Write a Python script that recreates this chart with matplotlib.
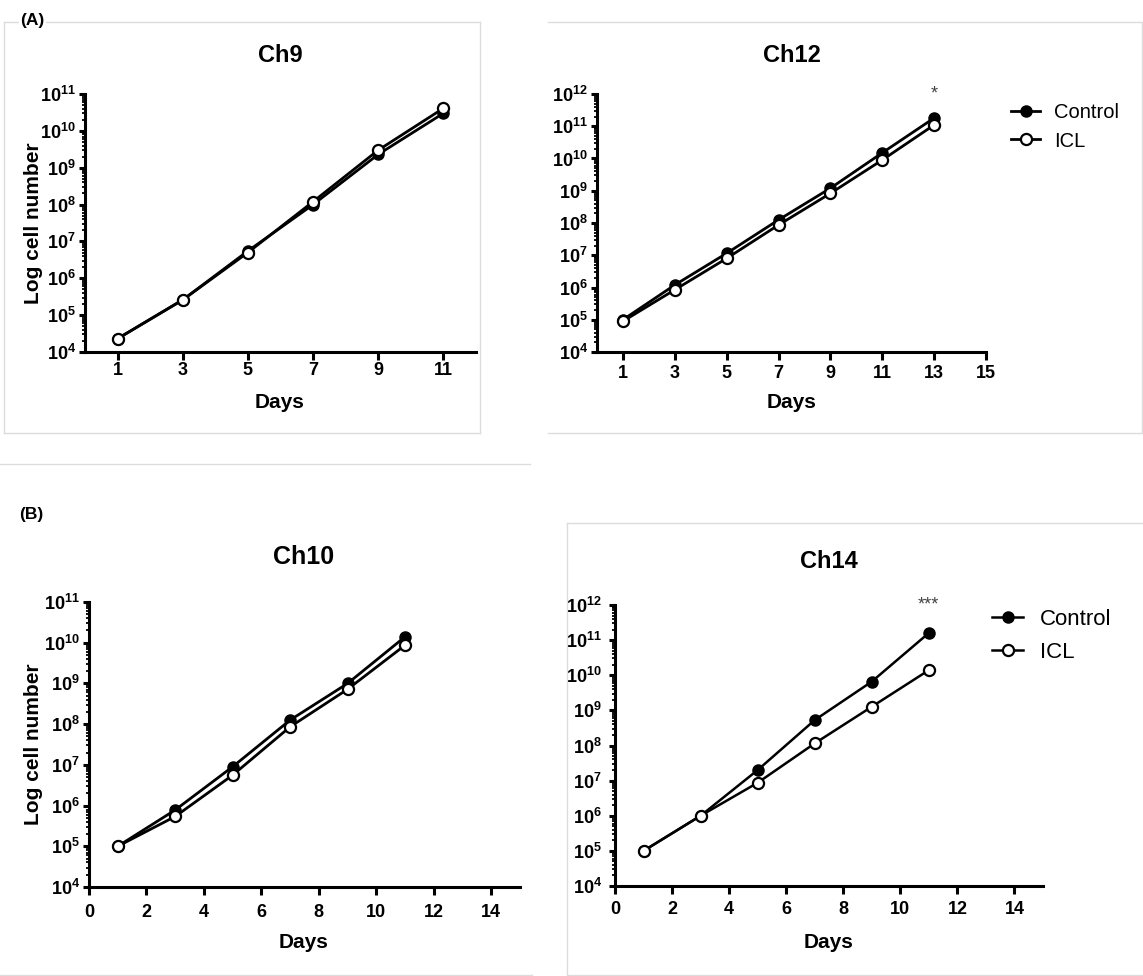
import matplotlib
matplotlib.use('Agg')
import matplotlib.pyplot as plt
import numpy as np
from matplotlib.lines import Line2D
from matplotlib.ticker import LogLocator, FuncFormatter, NullFormatter

plt.rcParams['font.family'] = ['Liberation Sans', 'DejaVu Sans']
plt.rcParams['mathtext.fontset'] = 'custom'
plt.rcParams['mathtext.bf'] = 'Liberation Sans:bold'
plt.rcParams['mathtext.rm'] = 'Liberation Sans:bold'

# data (cell numbers per day)
days_9 = [1, 3, 5, 7, 9, 11]
ctrl_9 = [2.3e4, 2.6e5, 5.5e6, 1.0e8, 2.3e9, 3.0e10]
icl_9 = [2.3e4, 2.6e5, 5.0e6, 1.2e8, 3.0e9, 4.1e10]

days_12 = [1, 3, 5, 7, 9, 11, 13]
ctrl_12 = [1.0e5, 1.2e6, 1.15e7, 1.25e8, 1.2e9, 1.5e10, 1.8e11]
icl_12 = [9.0e4, 8.5e5, 8.0e6, 8.7e7, 8.3e8, 9.0e9, 1.1e11]

days_10 = [1, 3, 5, 7, 9, 11]
ctrl_10 = [1.0e5, 7.8e5, 9.0e6, 1.26e8, 1.0e9, 1.4e10]
icl_10 = [1.0e5, 5.4e5, 5.6e6, 8.6e7, 7.2e8, 8.7e9]

days_14 = [1, 3, 5, 7, 9, 11]
ctrl_14 = [1.0e5, 1.0e6, 2.0e7, 5.3e8, 6.6e9, 1.6e11]
icl_14 = [1.0e5, 1.0e6, 8.7e6, 1.15e8, 1.27e9, 1.4e10]

W, H = 1143, 976
fig = plt.figure(figsize=(W / 100, H / 100), dpi=100)


def fx(px):
    return px / W


def fy(py):
    return 1 - py / H


def axes_px(left, right, top, bottom):
    return fig.add_axes([fx(left), fy(bottom), (right - left) / W, (bottom - top) / H])


def style_axes(ax, xlim, xticks, ymax, xpad, ypad=2):
    ax.set_yscale('log')
    ax.set_xlim(*xlim)
    ax.set_ylim(1e4, ymax)
    ax.set_xticks(xticks)
    for s in ['top', 'right']:
        ax.spines[s].set_visible(False)
    for s in ['left', 'bottom']:
        ax.spines[s].set_linewidth(2.2)
    ax.yaxis.set_major_locator(LogLocator(base=10, numticks=20))
    ax.yaxis.set_minor_locator(LogLocator(base=10, subs=np.arange(2, 10), numticks=20))
    ax.yaxis.set_minor_formatter(NullFormatter())
    ax.yaxis.set_major_formatter(FuncFormatter(lambda v, p: r'$\mathbf{10^{%d}}$' % round(np.log10(v))))
    ax.tick_params(axis='x', which='major', length=6, width=2.2, labelsize=13, pad=xpad)
    ax.tick_params(axis='y', which='major', length=4.5, width=2.2, labelsize=13, pad=ypad)
    ax.tick_params(axis='y', which='minor', length=2.5, width=1.3)
    for lab in ax.get_xticklabels():
        lab.set_fontweight('bold')


def plot_pair(ax, days, ctrl, icl, lw=2.0):
    ax.plot(days, ctrl, '-o', color='black', lw=lw, ms=8, mfc='black', mec='black',
            label='Control', clip_on=False, zorder=3)
    ax.plot(days, icl, '-o', color='black', lw=lw, ms=8, mfc='white', mec='black', mew=1.6,
            label='ICL', clip_on=False, zorder=4)


# Ch9
ax1 = axes_px(85, 476, 94, 352)
plot_pair(ax1, days_9, ctrl_9, icl_9)
style_axes(ax1, (0, 12), [1, 3, 5, 7, 9, 11], 1e11, 1)

# Ch12
ax2 = axes_px(597, 986, 94, 352)
plot_pair(ax2, days_12, ctrl_12, icl_12)
style_axes(ax2, (0, 15), [1, 3, 5, 7, 9, 11, 13, 15], 1e12, 3.5)
ax2.text(13, 1e12, '*', ha='center', va='center', fontsize=13, color='#444444', clip_on=False)

# Ch10
ax3 = axes_px(89, 520, 602, 887)
plot_pair(ax3, days_10, ctrl_10, icl_10)
style_axes(ax3, (0, 15), [0, 2, 4, 6, 8, 10, 12, 14], 1e11, 6)

# Ch14
ax4 = axes_px(615, 1043, 605, 886)
plot_pair(ax4, days_14, ctrl_14, icl_14, lw=1.8)
style_axes(ax4, (0, 15), [0, 2, 4, 6, 8, 10, 12, 14], 1e12, 5, ypad=5)
ax4.text(11, 1e12, '***', ha='center', va='center', fontsize=13, color='#444444', clip_on=False)

# titles
fig.text(fx(280), fy(55), 'Ch9', ha='center', va='center', fontsize=17, fontweight='bold')
fig.text(fx(792), fy(55), 'Ch12', ha='center', va='center', fontsize=17, fontweight='bold')
fig.text(fx(304), fy(557), 'Ch10', ha='center', va='center', fontsize=18, fontweight='bold')
fig.text(fx(829), fy(562), 'Ch14', ha='center', va='center', fontsize=17, fontweight='bold')

# axis labels
for x, y in [(280, 403), (792, 403), (304, 942), (829, 942)]:
    fig.text(fx(x), fy(y), 'Days', ha='center', va='center', fontsize=15, fontweight='bold')
fig.text(fx(34), fy(223), 'Log cell number', rotation=90, ha='center', va='center',
         fontsize=15, fontweight='bold')
fig.text(fx(34), fy(744), 'Log cell number', rotation=90, ha='center', va='center',
         fontsize=15, fontweight='bold')

# legends
h, l = ax2.get_legend_handles_labels()
fig.legend(h, l, loc='center left', bbox_to_anchor=(fx(1011), fy(127)), frameon=False,
           fontsize=14.5, handlelength=1.45, handletextpad=0.7, labelspacing=0.45,
           borderpad=0, borderaxespad=0)
h, l = ax4.get_legend_handles_labels()
fig.legend(h, l, loc='center left', bbox_to_anchor=(fx(992), fy(636)), frameon=False,
           fontsize=16, handlelength=1.4, handletextpad=0.75, labelspacing=0.55,
           borderpad=0, borderaxespad=0)

# panel frames
box_col = '#dcdcdc'
segs = [
    [(4, 22), (480, 22)], [(4, 22), (4, 433)], [(4, 433), (480, 433)], [(480, 22), (480, 433)],
    [(548, 22), (1142, 22)], [(548, 433), (1142, 433)], [(1142, 22), (1142, 433)],
    [(0, 464), (530, 464)], [(0, 975), (532, 975)],
    [(567, 523), (1143, 523)], [(567, 523), (567, 975)], [(567, 975), (1143, 975)],
]
for (x0, y0), (x1, y1) in segs:
    fig.add_artist(Line2D([fx(x0), fx(x1)], [fy(y0), fy(y1)], color=box_col, lw=1, zorder=0))

# panel letters
fig.text(fx(20), fy(20), '(A)', ha='left', va='center', fontsize=12.5, fontweight='bold',
         bbox=dict(facecolor='white', edgecolor='none', pad=1))
fig.text(fx(19), fy(515), '(B)', ha='left', va='center', fontsize=12.5, fontweight='bold')

fig.savefig('out.png', dpi=100)
